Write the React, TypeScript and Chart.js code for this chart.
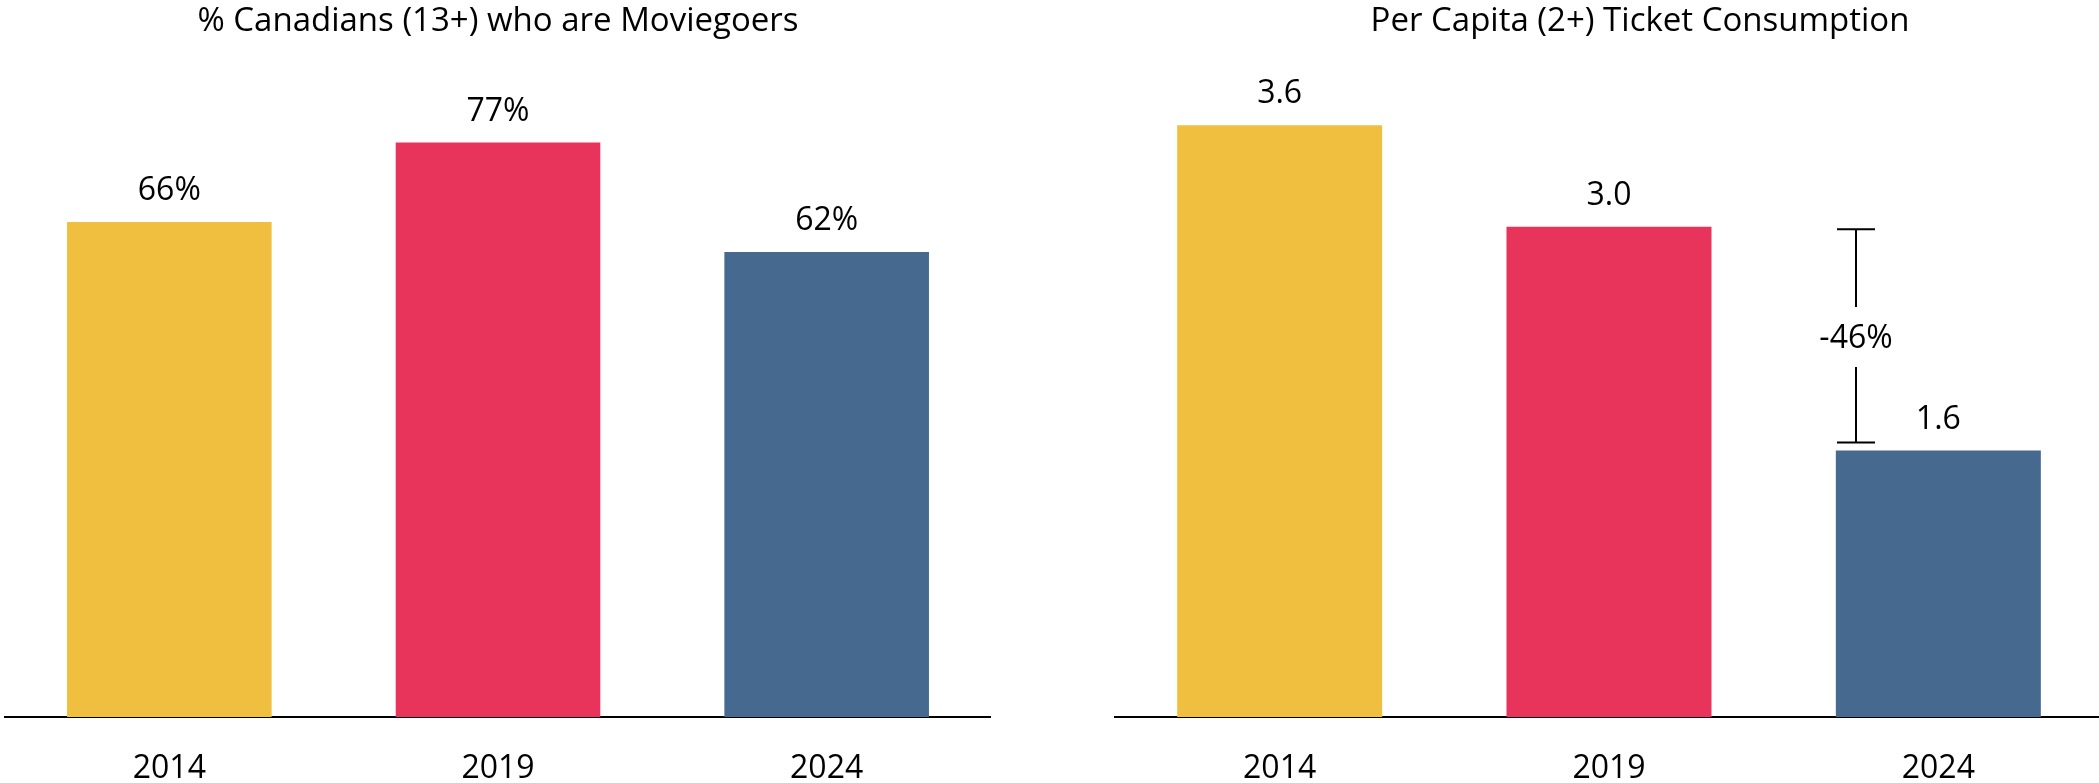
import React, { useEffect, useRef } from "react";
import { Chart, registerables } from "chart.js";

Chart.register(...registerables);

// ---- data ----
const years = ["2014", "2019", "2024"];
const moviegoerPct = [66, 76.6, 62];
const perCapitaTickets = [3.62, 3.0, 1.63];
const barColors = ["#F1BF40", "#E8345A", "#466990"];
const leftTitle = "% Canadians (13+) who are Moviegoers";
const rightTitle = "Per Capita (2+) Ticket Consumption";

const FONT = "'Open Sans', sans-serif";

const valueLabels = {
  id: "valueLabels",
  afterDatasetsDraw(chart: any, _args: any, opts: any) {
    const meta = chart.getDatasetMeta(0);
    const data = chart.data.datasets[0].data as number[];
    const ctx = chart.ctx;
    ctx.save();
    ctx.font = `32px ${FONT}`;
    ctx.fillStyle = "#000";
    ctx.textAlign = "center";
    ctx.textBaseline = "alphabetic";
    meta.data.forEach((bar: any, i: number) => {
      const v = data[i];
      const txt = v.toFixed(opts.decimals ?? 0) + (opts.suffix ?? "");
      ctx.fillText(txt, bar.x, bar.y - 22);
    });
    ctx.restore();
  },
};

const changeBracket = {
  id: "changeBracket",
  afterDatasetsDraw(chart: any) {
    const xs = chart.scales.x;
    const ys = chart.scales.y;
    const data = chart.data.datasets[0].data as number[];
    const x = xs.getPixelForValue(1.75);
    const top = ys.getPixelForValue(data[1]) + 2.5;
    const bottom = ys.getPixelForValue(data[2]) - 8;
    const mid = (top + bottom) / 2 + 3;
    const ctx = chart.ctx;
    ctx.save();
    ctx.strokeStyle = "#000";
    ctx.lineWidth = 2;
    ctx.beginPath();
    ctx.moveTo(x - 19, top);
    ctx.lineTo(x + 19, top);
    ctx.moveTo(x, top);
    ctx.lineTo(x, mid - 32);
    ctx.moveTo(x, mid + 28);
    ctx.lineTo(x, bottom);
    ctx.moveTo(x - 19, bottom);
    ctx.lineTo(x + 19, bottom);
    ctx.stroke();
    const pct = Math.round((data[2] / data[1] - 1) * 100);
    ctx.font = `32px ${FONT}`;
    ctx.fillStyle = "#000";
    ctx.textAlign = "center";
    ctx.textBaseline = "middle";
    ctx.fillText(`${pct}%`, x, mid);
    ctx.restore();
  },
};

function makeConfig(
  values: number[],
  title: string,
  yMax: number,
  decimals: number,
  suffix: string,
  padLeft: number,
  rightAxisWidth: number,
  extraPlugins: any[]
): any {
  return {
    type: "bar",
    data: {
      labels: years,
      datasets: [
        {
          data: values,
          backgroundColor: barColors,
          borderWidth: 0,
          barPercentage: 0.6225,
          categoryPercentage: 1,
        },
      ],
    },
    plugins: [valueLabels, ...extraPlugins],
    options: {
      responsive: false,
      animation: false,
      devicePixelRatio: 1,
      layout: { padding: { left: padLeft, right: 0, top: 0, bottom: 0 } },
      plugins: {
        legend: { display: false },
        tooltip: { enabled: false },
        title: {
          display: true,
          text: title,
          color: "#000",
          font: { family: FONT, size: 33, weight: "normal", lineHeight: 1.2 },
          padding: { top: 1.5, bottom: 0.9 },
        },
        valueLabels: { decimals, suffix },
      },
      scales: {
        x: {
          grid: { display: false, drawTicks: false },
          border: { display: true, color: "#000", width: 2 },
          ticks: {
            color: "#000",
            font: { family: FONT, size: 32 },
            padding: 33,
            maxRotation: 0,
          },
          afterFit: (s: any) => {
            s.height = 66;
          },
        },
        y: rightAxisWidth
          ? {
              display: true,
              position: "right",
              min: 0,
              max: yMax,
              grid: { display: false, drawTicks: false },
              border: { display: false },
              ticks: { display: false },
              afterFit: (s: any) => {
                s.width = rightAxisWidth;
              },
            }
          : { display: false, min: 0, max: yMax },
      },
    },
  };
}

function ChartCanvas(props: { config: any; left: number; width: number }) {
  const ref = useRef<HTMLCanvasElement>(null);
  useEffect(() => {
    if (!ref.current) return;
    const chart = new Chart(ref.current, props.config);
    return () => chart.destroy();
  }, []);
  return (
    <canvas
      ref={ref}
      width={props.width}
      height={783}
      style={{
        position: "absolute",
        left: props.left,
        top: 0,
        width: props.width,
        height: 783,
      }}
    />
  );
}

export default function App() {
  const leftCfg = makeConfig(moviegoerPct, leftTitle, 90, 0, "%", 5, 0, []);
  const rightCfg = makeConfig(
    perCapitaTickets,
    rightTitle,
    4.13,
    1,
    "",
    65,
    62,
    [changeBracket]
  );
  return (
    <div
      style={{
        position: "absolute",
        left: 0,
        top: 0,
        width: 2099,
        height: 783,
        overflow: "hidden",
        background: "#fff",
      }}
    >
      <ChartCanvas config={leftCfg} left={0} width={991} />
      <ChartCanvas config={rightCfg} left={1050} width={1115} />
    </div>
  );
}
